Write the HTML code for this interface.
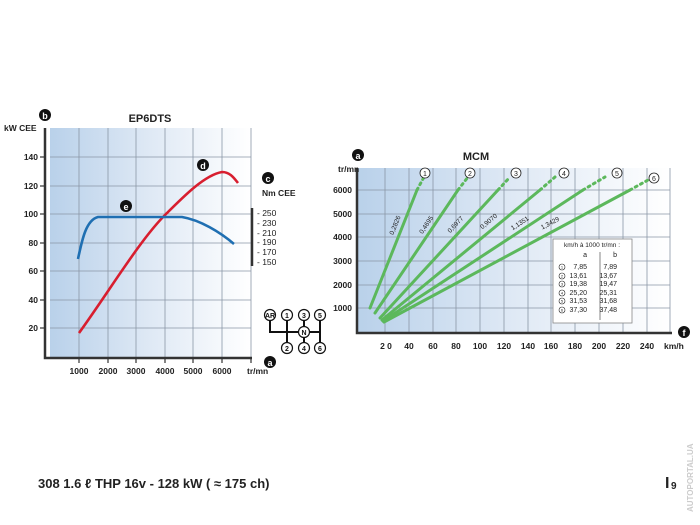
<!DOCTYPE html>
<html><head><meta charset="utf-8"><style>
html,body{margin:0;padding:0;background:#fff;}
svg{display:block;font-family:"Liberation Sans",Arial,sans-serif;}
</style></head><body>
<svg width="700" height="525" viewBox="0 0 700 525" xmlns="http://www.w3.org/2000/svg">
<defs>
<linearGradient id="g1" x1="0" x2="1" y1="0" y2="0">
<stop offset="0" stop-color="#b9d1ea"/><stop offset="0.5" stop-color="#dfe9f5"/><stop offset="1" stop-color="#ffffff"/>
</linearGradient>
</defs>
<!-- LEFT CHART -->
<rect x="50" y="128" width="201" height="230" fill="url(#g1)"/>
<g stroke="#8a96a6" stroke-width="0.8">
<line x1="79" y1="128" x2="79" y2="358"/><line x1="108" y1="128" x2="108" y2="358"/><line x1="136" y1="128" x2="136" y2="358"/><line x1="165" y1="128" x2="165" y2="358"/><line x1="193" y1="128" x2="193" y2="358"/><line x1="222" y1="128" x2="222" y2="358"/><line x1="251" y1="128" x2="251" y2="358"/>
<line x1="50" y1="157" x2="251" y2="157"/><line x1="50" y1="186" x2="251" y2="186"/><line x1="50" y1="214" x2="251" y2="214"/><line x1="50" y1="243" x2="251" y2="243"/><line x1="50" y1="271" x2="251" y2="271"/><line x1="50" y1="300" x2="251" y2="300"/><line x1="50" y1="328" x2="251" y2="328"/>
</g>
<path d="M45 128 V358 H252" fill="none" stroke="#333" stroke-width="2.5"/>
<g stroke="#333" stroke-width="1.2">
<line x1="79" y1="358" x2="79" y2="363"/><line x1="108" y1="358" x2="108" y2="363"/><line x1="136" y1="358" x2="136" y2="363"/><line x1="165" y1="358" x2="165" y2="363"/><line x1="193" y1="358" x2="193" y2="363"/><line x1="222" y1="358" x2="222" y2="363"/><line x1="251" y1="358" x2="251" y2="363"/>
<line x1="40" y1="157" x2="45" y2="157"/><line x1="40" y1="186" x2="45" y2="186"/><line x1="40" y1="214" x2="45" y2="214"/><line x1="40" y1="243" x2="45" y2="243"/><line x1="40" y1="271" x2="45" y2="271"/><line x1="40" y1="300" x2="45" y2="300"/><line x1="40" y1="328" x2="45" y2="328"/>
</g>
<g font-size="8.5" font-weight="bold" fill="#222" text-anchor="end">
<text x="38" y="160">140</text><text x="38" y="189">120</text><text x="38" y="217">100</text><text x="38" y="246">80</text><text x="38" y="274">60</text><text x="38" y="303">40</text><text x="38" y="331">20</text>
</g>
<g font-size="8.5" font-weight="bold" fill="#222" text-anchor="middle">
<text x="79" y="374">1000</text><text x="108" y="374">2000</text><text x="136" y="374">3000</text><text x="165" y="374">4000</text><text x="193" y="374">5000</text><text x="222" y="374">6000</text>
</g>
<text x="247" y="374" font-size="8.5" font-weight="bold" fill="#222">tr/mn</text>
<text x="4" y="131" font-size="8.5" font-weight="bold" fill="#222">kW CEE</text>
<text x="150" y="122" font-size="11" font-weight="bold" fill="#222" text-anchor="middle">EP6DTS</text>
<circle cx="45" cy="115" r="6" fill="#111"/><text x="45" y="119" font-size="9" font-weight="bold" fill="#fff" text-anchor="middle">b</text>
<circle cx="270" cy="362" r="6" fill="#111"/><text x="270" y="366" font-size="9" font-weight="bold" fill="#fff" text-anchor="middle">a</text>
<circle cx="268" cy="178" r="6" fill="#111"/><text x="268" y="182" font-size="9" font-weight="bold" fill="#fff" text-anchor="middle">c</text>
<text x="262" y="196" font-size="8.5" font-weight="bold" fill="#222">Nm CEE</text>
<line x1="252" y1="208" x2="252" y2="266" stroke="#333" stroke-width="2.5"/>
<g font-size="8.5" fill="#222">
<text x="257" y="216">- 250</text><text x="257" y="226">- 230</text><text x="257" y="236">- 210</text><text x="257" y="245">- 190</text><text x="257" y="255">- 170</text><text x="257" y="265">- 150</text>
</g>
<path d="M79 333 C110 290 140 240 165 215 C185 195 205 175 222 172 C230 172 234 178 238 183" fill="none" stroke="#d81e2f" stroke-width="2.6"/>
<path d="M78 259 C82 240 86 220 98 217 L182 217 C200 220 220 232 234 244" fill="none" stroke="#1f6fb2" stroke-width="2.6"/>
<circle cx="203" cy="165" r="6" fill="#111"/><text x="203" y="169" font-size="9" font-weight="bold" fill="#fff" text-anchor="middle">d</text>
<circle cx="126" cy="206" r="6" fill="#111"/><text x="126" y="210" font-size="9" font-weight="bold" fill="#fff" text-anchor="middle">e</text>
<!-- GEARSHIFT -->
<path d="M270 315 V332 H320 M287 315 V348 M304 315 V348 M320 315 V348" fill="none" stroke="#111" stroke-width="2"/>
<g fill="#fff" stroke="#111" stroke-width="1.2">
<circle cx="270" cy="315" r="5.5"/><circle cx="287" cy="315" r="5.5"/><circle cx="304" cy="315" r="5.5"/><circle cx="320" cy="315" r="5.5"/>
<circle cx="304" cy="332" r="5.5"/>
<circle cx="287" cy="348" r="5.5"/><circle cx="304" cy="348" r="5.5"/><circle cx="320" cy="348" r="5.5"/>
</g>
<g font-size="7" font-weight="bold" fill="#111" text-anchor="middle">
<text x="270" y="318">AR</text><text x="287" y="318">1</text><text x="304" y="318">3</text><text x="320" y="318">5</text><text x="304" y="335">N</text><text x="287" y="351">2</text><text x="304" y="351">4</text><text x="320" y="351">6</text>
</g>
<!-- RIGHT CHART -->
<rect x="357" y="168" width="313" height="165" fill="url(#g1)"/>
<g stroke="#8a96a6" stroke-width="0.8">
<line x1="385" y1="168" x2="385" y2="333"/><line x1="409" y1="168" x2="409" y2="333"/><line x1="433" y1="168" x2="433" y2="333"/><line x1="456" y1="168" x2="456" y2="333"/><line x1="480" y1="168" x2="480" y2="333"/><line x1="504" y1="168" x2="504" y2="333"/><line x1="528" y1="168" x2="528" y2="333"/><line x1="551" y1="168" x2="551" y2="333"/><line x1="575" y1="168" x2="575" y2="333"/><line x1="599" y1="168" x2="599" y2="333"/><line x1="623" y1="168" x2="623" y2="333"/><line x1="647" y1="168" x2="647" y2="333"/><line x1="670" y1="168" x2="670" y2="333"/>
<line x1="357" y1="190" x2="670" y2="190"/><line x1="357" y1="214" x2="670" y2="214"/><line x1="357" y1="237" x2="670" y2="237"/><line x1="357" y1="261" x2="670" y2="261"/><line x1="357" y1="285" x2="670" y2="285"/><line x1="357" y1="308" x2="670" y2="308"/>
</g>
<path d="M357 168 V333 H672" fill="none" stroke="#333" stroke-width="2.5"/>
<g font-size="8.5" font-weight="bold" fill="#222" text-anchor="end">
<text x="352" y="193">6000</text><text x="352" y="217">5000</text><text x="352" y="240">4000</text><text x="352" y="264">3000</text><text x="352" y="288">2000</text><text x="352" y="311">1000</text>
</g>
<g font-size="8.5" font-weight="bold" fill="#222" text-anchor="middle">
<text x="386" y="349">2 0</text><text x="409" y="349">40</text><text x="433" y="349">60</text><text x="456" y="349">80</text><text x="480" y="349">100</text><text x="504" y="349">120</text><text x="528" y="349">140</text><text x="551" y="349">160</text><text x="575" y="349">180</text><text x="599" y="349">200</text><text x="623" y="349">220</text><text x="647" y="349">240</text>
</g>
<text x="664" y="349" font-size="8.5" font-weight="bold" fill="#222">km/h</text>
<text x="338" y="172" font-size="8.5" font-weight="bold" fill="#222">tr/mn</text>
<text x="476" y="160" font-size="11" font-weight="bold" fill="#222" text-anchor="middle">MCM</text>
<circle cx="358" cy="155" r="6" fill="#111"/><text x="358" y="159" font-size="9" font-weight="bold" fill="#fff" text-anchor="middle">a</text>
<circle cx="684" cy="332" r="6" fill="#111"/><text x="684" y="336" font-size="9" font-weight="bold" fill="#fff" text-anchor="middle">f</text>
<g stroke="#5cb85c" stroke-width="3" fill="none" stroke-linecap="round">
<line x1="370" y1="308" x2="417" y2="190"/>
<line x1="375" y1="313" x2="458" y2="190"/>
<line x1="380" y1="318" x2="498" y2="190"/>
<line x1="382" y1="320" x2="540" y2="190"/>
<line x1="383" y1="321" x2="583" y2="190"/>
<line x1="384" y1="322" x2="630" y2="190"/>
</g>
<g stroke="#5cb85c" stroke-width="3" fill="none" stroke-dasharray="2 4" stroke-linecap="round">
<line x1="417" y1="190" x2="424" y2="177"/>
<line x1="458" y1="190" x2="468" y2="177"/>
<line x1="498" y1="190" x2="510" y2="177"/>
<line x1="540" y1="190" x2="555" y2="177"/>
<line x1="583" y1="190" x2="605" y2="177"/>
<line x1="630" y1="190" x2="648" y2="180"/>
</g>
<g fill="#fff" stroke="#222" stroke-width="0.8">
<circle cx="425" cy="173" r="5"/><circle cx="470" cy="173" r="5"/><circle cx="516" cy="173" r="5"/><circle cx="564" cy="173" r="5"/><circle cx="617" cy="173" r="5"/><circle cx="654" cy="178" r="5"/>
</g>
<g font-size="7" fill="#222" text-anchor="middle">
<text x="425" y="176">1</text><text x="470" y="176">2</text><text x="516" y="176">3</text><text x="564" y="176">4</text><text x="617" y="176">5</text><text x="654" y="181">6</text>
</g>
<g font-size="6.5" fill="#222" text-anchor="middle">
<text transform="translate(397,226) rotate(-68)">0,2826</text>
<text transform="translate(428,226) rotate(-56)">0,4695</text>
<text transform="translate(457,226) rotate(-47)">0,6977</text>
<text transform="translate(490,223) rotate(-40)">0,9070</text>
<text transform="translate(521,225) rotate(-33)">1,1351</text>
<text transform="translate(551,225) rotate(-28)">1,3429</text>
</g>
<rect x="553" y="239" width="79" height="84" fill="#fff" stroke="#888" stroke-width="0.8"/>
<line x1="600" y1="252" x2="600" y2="320" stroke="#666" stroke-width="0.8"/>
<text x="592" y="247" font-size="6.5" fill="#222" text-anchor="middle">km/h à 1000 tr/mn :</text>
<g font-size="7" fill="#222" text-anchor="end">
<text x="587" y="257">a</text><text x="617" y="257">b</text>
<text x="587" y="269">7,85</text><text x="617" y="269">7,89</text>
<text x="587" y="278">13,61</text><text x="617" y="278">13,67</text>
<text x="587" y="286">19,38</text><text x="617" y="286">19,47</text>
<text x="587" y="295">25,20</text><text x="617" y="295">25,31</text>
<text x="587" y="303">31,53</text><text x="617" y="303">31,68</text>
<text x="587" y="312">37,30</text><text x="617" y="312">37,48</text>
</g>
<g fill="none" stroke="#222" stroke-width="0.6">
<circle cx="562" cy="267" r="3"/><circle cx="562" cy="276" r="3"/><circle cx="562" cy="284" r="3"/><circle cx="562" cy="293" r="3"/><circle cx="562" cy="301" r="3"/><circle cx="562" cy="310" r="3"/>
</g>
<g font-size="4" fill="#222" text-anchor="middle">
<text x="562" y="268.5">1</text><text x="562" y="277.5">2</text><text x="562" y="285.5">3</text><text x="562" y="294.5">4</text><text x="562" y="302.5">5</text><text x="562" y="311.5">6</text>
</g>
<!-- FOOTER -->
<text x="38" y="488" font-size="13" font-weight="bold" fill="#222">308 1.6 ℓ THP 16v - 128 kW ( ≈ 175 ch)</text>
<text x="665" y="488" font-size="16" font-weight="bold" fill="#222">I</text><text x="671" y="489" font-size="10" font-weight="bold" fill="#222">9</text>
<text transform="translate(693,512) rotate(-90)" font-size="8" font-weight="bold" fill="#ccc">AUTOPORTAL.UA</text>
</svg>
</body></html>
